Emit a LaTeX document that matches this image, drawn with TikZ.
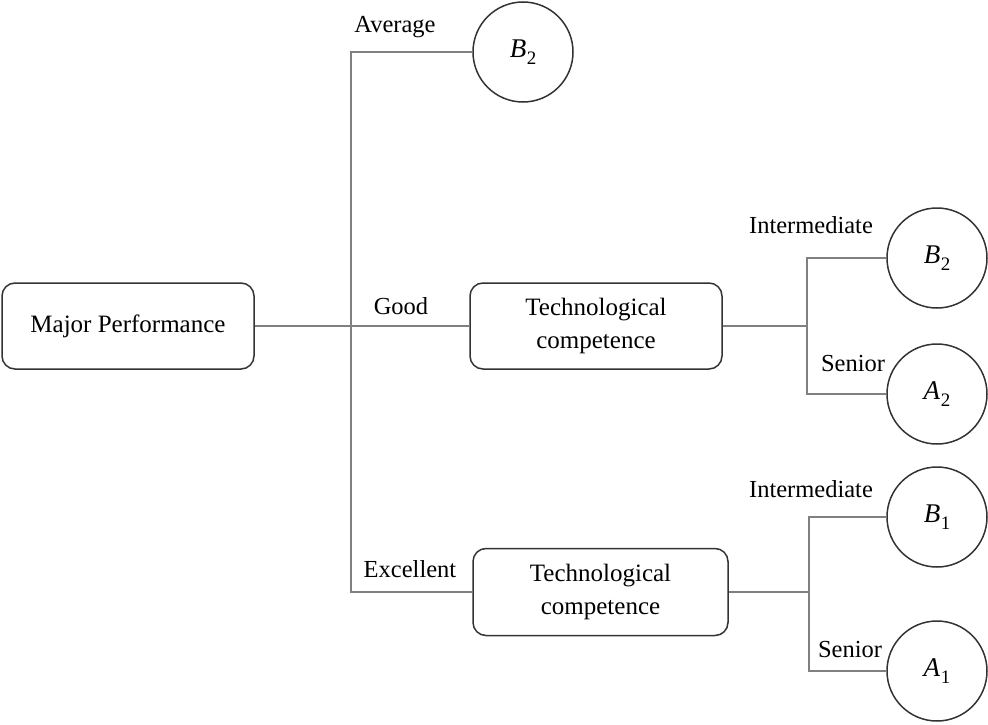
\documentclass[tikz,border=0pt]{standalone}
\usepackage{fontspec}
\setmainfont{Liberation Serif}
\newcommand{\vr}[2]{\textit{#1}\kern0.5pt\raisebox{-0.28em}{\fontsize{19}{19}\selectfont #2}}
\begin{document}
\begin{tikzpicture}[x=1pt,y=-1pt,
  box/.style={draw=black!80, line width=1.5pt, rounded corners=13pt, minimum width=252pt, minimum height=86pt, align=center, font=\fontsize{25}{33}\selectfont, inner sep=0pt},
  leaf/.style={circle, draw=black!80, line width=1.5pt, minimum size=100pt, inner sep=0pt, font=\fontsize{27}{30}\selectfont},
  lab/.style={font=\fontsize{24.5}{28}\selectfont, inner sep=0pt},
  conn/.style={draw=black!50, line width=1.4pt}]
\useasboundingbox (0,0) rectangle (988,725);

\node[box] (mp) at (128,326) {Major Performance};
\node[box] (t1) at (596,326) {Technological\\competence};
\node[box, minimum width=255pt, minimum height=87pt] (t2) at (600.5,592) {Technological\\competence};

\node[leaf] (bA) at (523,52) {\vr{B}{2}};
\node[leaf] (b2) at (937,258) {\vr{B}{2}};
\node[leaf] (a2) at (937,394) {\vr{A}{2}};
\node[leaf] (b1) at (937,517) {\vr{B}{1}};
\node[leaf] (a1) at (937,671) {\vr{A}{1}};

\coordinate (jA) at (351,52);
\coordinate (jE) at (351,592);
\coordinate (r1) at (807,326);
\coordinate (r2) at (809,592);

\draw[conn] (mp.east) -- (t1.west);
\draw[conn] (bA.west) -- (jA) -- (jE) -- (t2.west);
\draw[conn] (t1.east) -- (r1);
\draw[conn] (b2.west) -| (r1);
\draw[conn] (a2.west) -| (r1);
\draw[conn] (t2.east) -- (r2);
\draw[conn] (b1.west) -| (r2);
\draw[conn] (a1.west) -| (r2);

\node[lab] (lavg) at (395,27) {Average};
\node[lab] (lgood) at (401,306) {Good};
\node[lab] (lexc) at (410,569) {Excellent};
\node[lab] (lint1) at (811,225) {Intermediate};
\node[lab] (lsen1) at (853,364) {Senior};
\node[lab] (lint2) at (811,489) {Intermediate};
\node[lab] (lsen2) at (850,650) {Senior};
\end{tikzpicture}
\end{document}
